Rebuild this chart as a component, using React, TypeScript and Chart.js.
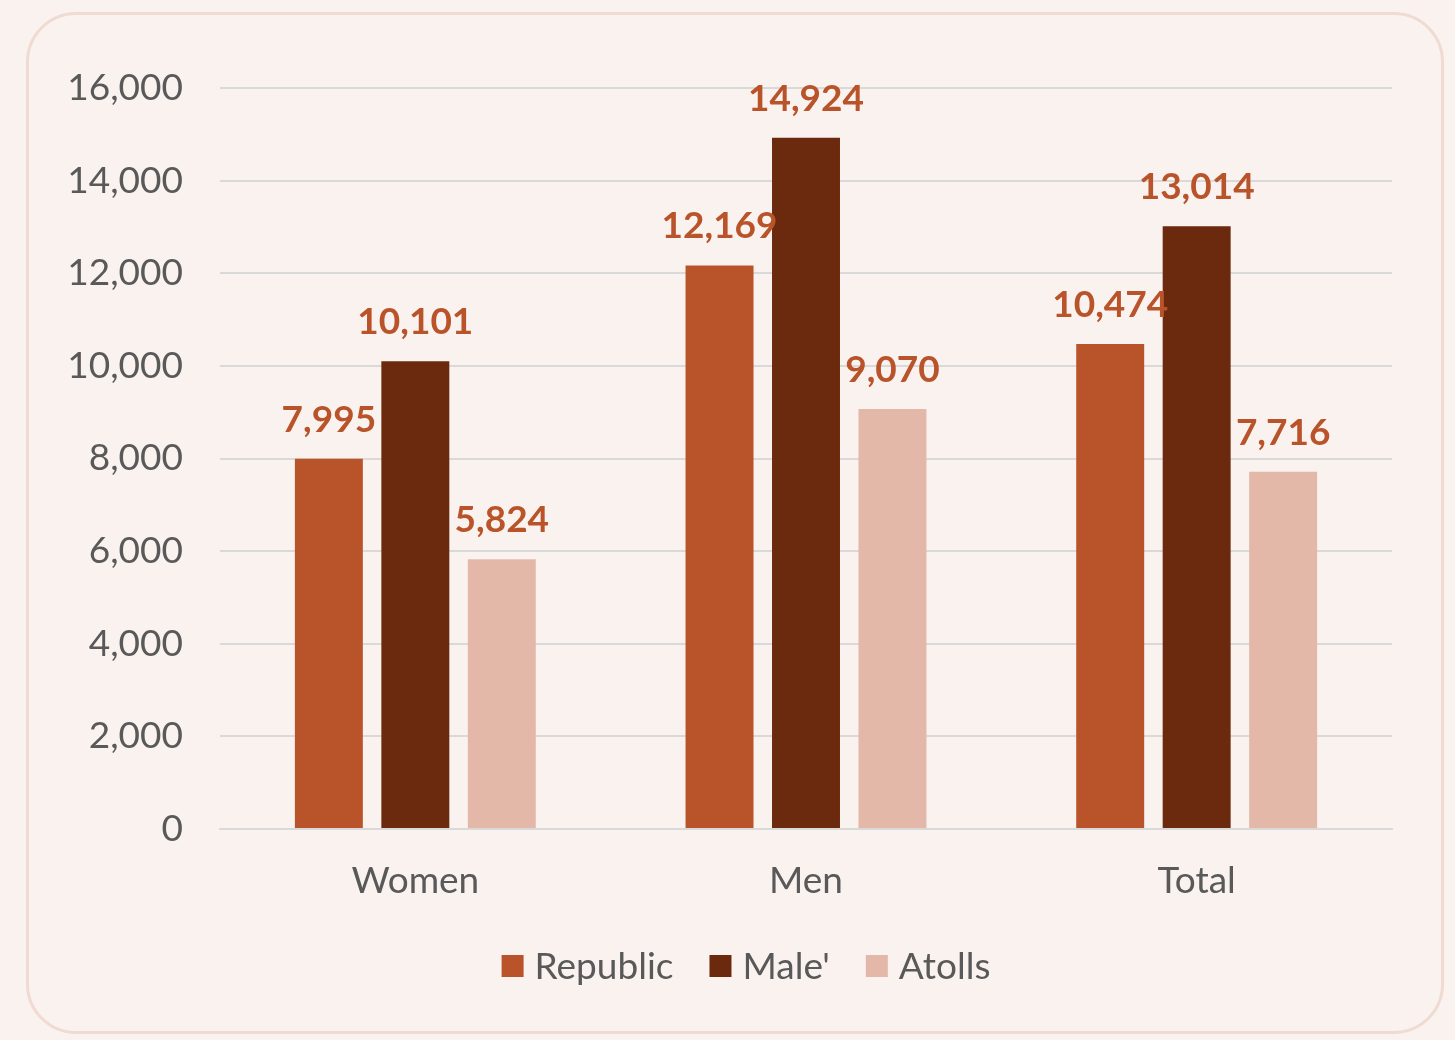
import React, { useEffect, useRef } from "react";
import { Chart, registerables } from "chart.js";

Chart.register(...registerables);

const categories = ["Women", "Men", "Total"];
const seriesNames = ["Republic", "Male'", "Atolls"];
const republic = [7995, 12169, 10474];
const male = [10101, 14924, 13014];
const atolls = [5824, 9070, 7716];
const colors = ["#B9532A", "#6B290D", "#E3B8A9"];
const yTicks = [0, 2000, 4000, 6000, 8000, 10000, 12000, 14000, 16000];

const FONT = "Lato, 'Open Sans', sans-serif";

const labelPlugin = {
  id: "valueLabels",
  afterDatasetsDraw(chart: any) {
    const ctx = chart.ctx;
    ctx.save();
    ctx.font = `700 37px ${FONT}`;
    ctx.fillStyle = "#B9532A";
    ctx.textAlign = "center";
    ctx.textBaseline = "alphabetic";
    chart.data.datasets.forEach((ds: any, di: number) => {
      const meta = chart.getDatasetMeta(di);
      meta.data.forEach((bar: any, i: number) => {
        const v = ds.data[i];
        ctx.fillText(v.toLocaleString("en-US"), bar.x, bar.y - 27);
      });
    });
    ctx.restore();
  },
};

const legendPlugin = {
  id: "customLegend",
  afterDraw(chart: any) {
    const ctx = chart.ctx;
    ctx.save();
    ctx.font = `37px ${FONT}`;
    ctx.textBaseline = "middle";
    ctx.textAlign = "left";
    const box = 22;
    const gapText = 11;
    const gapItem = 36;
    const items = chart.data.datasets.map((ds: any) => ({
      label: ds.label,
      color: ds.backgroundColor,
      w: ctx.measureText(ds.label).width,
    }));
    const total =
      items.reduce((s: number, it: any) => s + box + gapText + it.w, 0) +
      gapItem * (items.length - 1);
    let x = 746 - total / 2;
    const cy = 966;
    items.forEach((it: any) => {
      ctx.fillStyle = it.color;
      ctx.fillRect(x, cy - box / 2, box, box);
      ctx.fillStyle = "#595959";
      ctx.fillText(it.label, x + box + gapText, cy + 1);
      x += box + gapText + it.w + gapItem;
    });
    ctx.restore();
  },
};

export default function App() {
  const ref = useRef<HTMLCanvasElement>(null);
  useEffect(() => {
    const data = [republic, male, atolls];
    const chart = new Chart(ref.current!, {
      type: "bar",
      data: {
        labels: categories,
        datasets: seriesNames.map((n, i) => ({
          label: n,
          data: data[i],
          backgroundColor: colors[i],
          borderWidth: 0,
          categoryPercentage: 0.664,
          barPercentage: 0.786,
        })),
      },
      options: {
        animation: false,
        responsive: false,
        maintainAspectRatio: false,
        layout: { padding: { left: 0, right: 63, top: 88, bottom: 130 } },
        plugins: {
          tooltip: { enabled: false },
          legend: { display: false },
        },
        scales: {
          x: {
            grid: { display: false, drawTicks: false },
            border: { display: true, color: "#D9D9D9", width: 2 },
            ticks: {
              font: { family: FONT, size: 37 },
              color: "#595959",
              padding: 30,
            },
            afterFit(scale: any) {
              scale.height = 81;
            },
          },
          y: {
            min: 0,
            max: 16000,
            afterBuildTicks(scale: any) {
              scale.ticks = yTicks.map((v) => ({ value: v }));
            },
            grid: { color: "#D9D9D9", lineWidth: 2, drawTicks: false },
            border: { display: false },
            ticks: {
              font: { family: FONT, size: 37 },
              color: "#595959",
              padding: 37,
              callback: (v: any) => Number(v).toLocaleString("en-US"),
            },
            afterFit(scale: any) {
              scale.width = 220;
            },
          },
        },
      },
      plugins: [labelPlugin, legendPlugin],
    });
    return () => chart.destroy();
  }, []);

  return (
    <div
      style={{
        position: "absolute",
        left: 0,
        top: 0,
        width: 1455,
        height: 1040,
        background: "#FAF2EF",
        overflow: "hidden",
      }}
    >
      <div
        style={{
          position: "absolute",
          left: 26,
          top: 12,
          width: 1418,
          height: 1022,
          border: "3px solid #EFDBD1",
          borderRadius: 50,
          boxSizing: "border-box",
        }}
      />
      <canvas
        ref={ref}
        width={1455}
        height={1040}
        style={{ position: "absolute", left: 0, top: 0 }}
      />
    </div>
  );
}
